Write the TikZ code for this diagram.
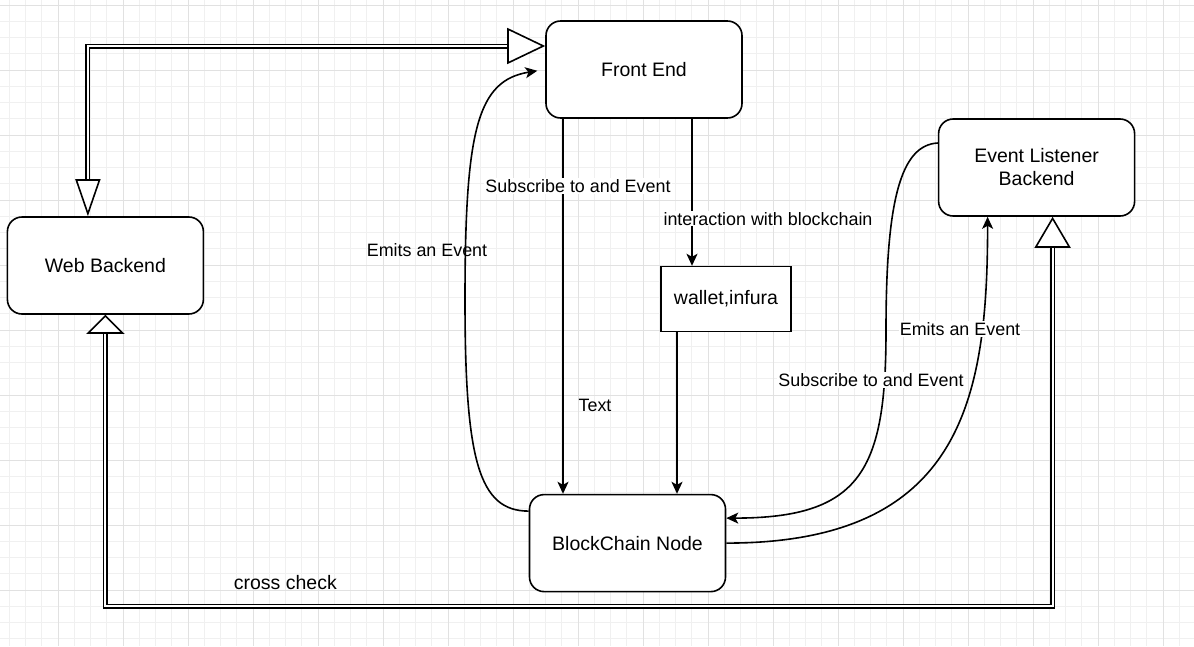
\documentclass[tikz,border=0pt]{standalone}
\usepackage{fontspec}
\setmainfont{Liberation Sans}
\usetikzlibrary{positioning, arrows.meta}

\definecolor{gridminor}{HTML}{F0F0F0}
\definecolor{gridmajor}{HTML}{E1E1E1}

\tikzset{
    box/.style={draw, fill=white, rounded corners=14.6pt, line width=1.6pt, minimum width=196pt, minimum height=97pt, inner sep=0pt, align=center, font=\fontsize{19.5}{23}\selectfont},
    plainbox/.style={box, sharp corners, minimum width=130pt, minimum height=65pt},
    link/.style={draw, line width=1.6pt, -{Stealth[length=12pt, width=11pt, inset=3pt]}},
    dblline/.style={draw, line width=1.5pt, double=white, double distance=2pt},
    tipline/.style={draw, line width=1.6pt},
    lbl/.style={inner sep=1pt, font=\fontsize{17.9}{21}\selectfont},
    biglbl/.style={inner sep=1pt, font=\fontsize{19.5}{23}\selectfont}
}

\begin{document}
\begin{tikzpicture}[x=1pt, y=-1pt]

% Background grid
\useasboundingbox[fill=white] (0,0) rectangle (1194,646);
\foreach \i in {0,...,72} \draw[gridminor, line width=1pt] ({9.25+16.25*\i},0) -- ({9.25+16.25*\i},646);
\foreach \j in {0,...,39} \draw[gridminor, line width=1pt] (0,{5+16.25*\j}) -- (1194,{5+16.25*\j});
\foreach \i in {0,...,17} \draw[gridmajor, line width=1pt] ({58+65*\i},0) -- ({58+65*\i},646);
\foreach \j in {0,...,9} \draw[gridmajor, line width=1pt] (0,{5+65*\j}) -- (1194,{5+65*\j});

% Nodes
\node[box] (front) at (644,69.5) {Front End};
\node[box] (web) [left=341pt of front, yshift=-196pt] {Web Backend};
\node[box] (listener) [right=195pt of front, yshift=-98pt] {Event Listener\\Backend};
\node[plainbox] (wallet) [below=147pt of front, xshift=82pt] {wallet,infura};
\node[box] (chain) [below=375pt of front, xshift=-16.5pt] {BlockChain Node};

% Arrows
\draw[link] ([xshift=-81pt]front.south) -- ([xshift=-64.5pt]chain.north)
    node[lbl, fill=white, pos=0.179, xshift=15pt] (sublbl) {Subscribe to and Event}
    node[lbl, pos=0.763, xshift=32pt] (textlbl) {Text};
\draw[link] ([xshift=48pt]front.south) -- ([xshift=-34pt]wallet.north)
    node[lbl, fill=white, pos=0.68, xshift=76pt] (actlbl) {interaction with blockchain};
\draw[link] ([xshift=-49pt]wallet.south) -- ([xshift=49.5pt]chain.north);

\draw[link, shorten >=8pt] ([yshift=32pt]chain.west) .. controls +(-50,0) and +(0,160) .. (465,300)
    .. controls +(0,-170) and +(-68,11) .. (front.west);
\node[lbl] (emitlbl) at (427,250) {Emits an Event};

\draw[link] ([yshift=24.5pt]listener.west) .. controls +(-37,2) and +(0,-130) .. (886,330)
    .. controls +(0,140) and +(135,0) .. ([yshift=25pt]chain.east);
\node[lbl, fill=white] (sub2lbl) at (871,380) {Subscribe to and Event};

\draw[link] (chain.east) .. controls +(235,0) and +(0,183) .. ([xshift=-49pt]listener.south);
\node[lbl, fill=white] (emit2lbl) at (960,329) {Emits an Event};

% Double connectors
\draw[dblline, shorten <=37pt, shorten >=38pt] ([xshift=-17.5pt]web.north) |- ([yshift=23.5pt]front.west);
\draw[tipline, -{Triangle[length=37pt, width=25pt, fill=white]}] ([xshift=-17.5pt, yshift=37pt]web.north) -- ([xshift=-17.5pt]web.north);
\draw[tipline, -{Triangle[length=38pt, width=36pt, fill=white]}] ([xshift=-38pt, yshift=23.5pt]front.west) -- ([yshift=23.5pt]front.west);

\coordinate (lsb) at ([xshift=16pt]listener.south);
\coordinate (crossy) at (0,606);
\draw[dblline, shorten <=31pt, shorten >=19pt] (lsb) -- (lsb |- crossy) -| (web.south)
    node[biglbl, pos=0.405, yshift=23pt] (crosslbl) {cross check};
\draw[tipline, -{Triangle[length=31pt, width=36pt, fill=white]}] ([yshift=-31pt]lsb) -- (lsb);
\draw[tipline, -{Triangle[length=19pt, width=38pt, fill=white]}] ([yshift=-19pt]web.south) -- (web.south);

\end{tikzpicture}
\end{document}
